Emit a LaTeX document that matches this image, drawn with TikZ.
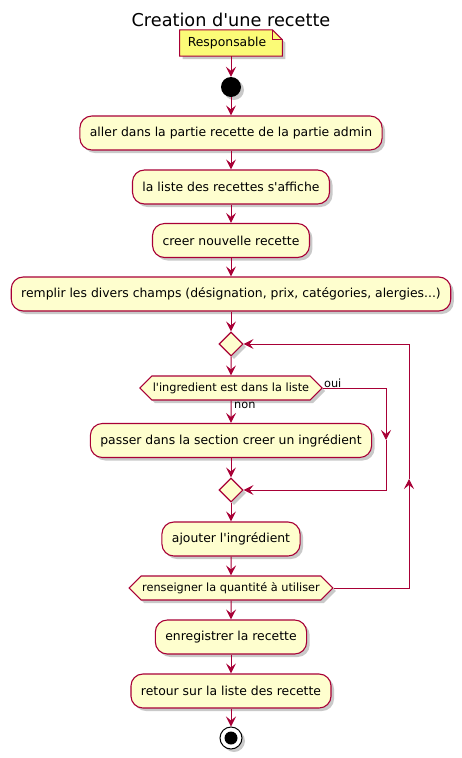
\documentclass[tikz,border=0pt]{standalone}
\usepackage{fontspec}
\setmainfont{DejaVu Sans}
\usepackage{xcolor}
\usepackage{tikz}
\usetikzlibrary{arrows.meta, positioning, calc, shadows, backgrounds, shapes.geometric, shapes.symbols}
\definecolor{bordeaux}{HTML}{A80036}
\definecolor{fondaction}{HTML}{FEFECE}
\definecolor{fondnote}{HTML}{FBFB77}
\newcommand{\apos}{\textquotesingle}
\tikzstyle{fleche} = [draw=bordeaux, line width=1pt, -{Stealth[length=10pt,width=10pt,inset=4pt]}]
\tikzstyle{ombre} = [drop shadow={shadow xshift=3pt, shadow yshift=-3pt, opacity=0.3, fill=black!70}]
\tikzstyle{action} = [rectangle, rounded corners=12pt, draw=bordeaux, fill=fondaction, line width=1.1pt, minimum height=34pt, inner xsep=10pt, font=\fontsize{12.4}{14}\selectfont, ombre]
\tikzstyle{test} = [signal, signal to=west and east, signal pointer angle=90, draw=bordeaux, fill=fondaction, line width=1.1pt, minimum height=24pt, inner xsep=1pt, inner ysep=0pt, font=\fontsize{11.3}{13}\selectfont, ombre]
\tikzstyle{fusion} = [diamond, draw=bordeaux, fill=fondaction, line width=1.1pt, minimum width=24pt, minimum height=24pt, inner sep=0pt, ombre]
\tikzstyle{etiquette} = [inner sep=1pt, font=\fontsize{11.3}{13}\selectfont]

\begin{document}
\begin{tikzpicture}[x=1pt, y=-1pt]
    \useasboundingbox (0,0) rectangle (462,758);

    % Titre
    \node (titre) at (231,20) {\fontsize{17.7}{20}\selectfont Creation d\apos une recette};

    % Note
    \node[minimum height=26pt, inner xsep=0pt, inner ysep=0pt, font=\fontsize{12.4}{14}\selectfont] (note) at (227,43) {Responsable};
    \begin{scope}[on background layer]
        \filldraw[draw=bordeaux, fill=fondnote, line width=1pt, ombre] ($(note.north west)+(-8,0)$) -- ($(note.north east)+(6,0)$) -- ($(note.north east)+(16,10)$) -- ($(note.south east)+(16,0)$) -- ($(note.south west)+(-8,0)$) -- cycle;
        \draw[bordeaux, line width=1pt] ($(note.north east)+(6,0)$) -- ++(0,10) -- ++(10,0);
    \end{scope}

    % Debut
    \node[circle, fill=black, minimum size=20pt, inner sep=0pt, ombre] (debut) at (231,87) {};

    % Actions
    \node[action] (a1) at (231,133) {aller dans la partie recette de la partie admin};
    \node[action] (a2) at (231,187) {la liste des recettes s\apos affiche};
    \node[action] (a3) at (231,240.5) {creer nouvelle recette};
    \node[action] (a4) at (231,294) {remplir les divers champs (désignation, prix, catégories, alergies...)};

    % Boucle
    \node[fusion] (m1) at (231,344) {};
    \node[test] (q1) at (231,388) {l\apos ingredient est dans la liste};
    \node[action] (a5) at (231,440.5) {passer dans la section creer un ingrédient};
    \node[fusion] (m2) at (231,490) {};
    \node[action] (a6) at (231,539) {ajouter l\apos ingrédient};
    \node[test] (q2) at (231,588) {renseigner la quantité à utiliser};

    % Fin
    \node[action] (a7) at (231,637) {enregistrer la recette};
    \node[action] (a8) at (231,691) {retour sur la liste des recette};
    \node[circle, draw=black, fill=white, line width=1pt, minimum size=22pt, inner sep=0pt, ombre] (fin) at (231,738) {};
    \node[circle, fill=black, minimum size=13pt, inner sep=0pt] (finint) at (fin) {};

    % Fleches
    \draw[fleche] (note.south -| debut) -- (debut);
    \draw[fleche] (debut) -- (a1);
    \draw[fleche] (a1) -- (a2);
    \draw[fleche] (a2) -- (a3);
    \draw[fleche] (a3) -- (a4);
    \draw[fleche] (a4) -- (m1);
    \draw[fleche] (m1) -- (q1);
    \draw[fleche] (q1) -- (a5);
    \draw[fleche] (a5) -- (m2);
    \draw[fleche] (m2) -- (a6);
    \draw[fleche] (a6) -- (q2);
    \draw[fleche] (q2) -- (a7);
    \draw[fleche] (a7) -- (a8);
    \draw[fleche] (a8) -- (fin);

    % Branche oui
    \coordinate (ouibas) at (386,440);
    \draw[fleche] (q1.east) -| (ouibas);
    \draw[fleche] (ouibas) |- (m2.east);
    \node[etiquette, above right=-1pt and 0pt of q1.east] (oui) {oui};
    \node[etiquette, below right=0pt and 2pt of q1.south] (non) {non};

    % Retour boucle
    \coordinate (retour) at (409,479);
    \draw[fleche] (q2.east) -| (retour);
    \draw[fleche] (retour) |- (m1.east);
\end{tikzpicture}
\end{document}
